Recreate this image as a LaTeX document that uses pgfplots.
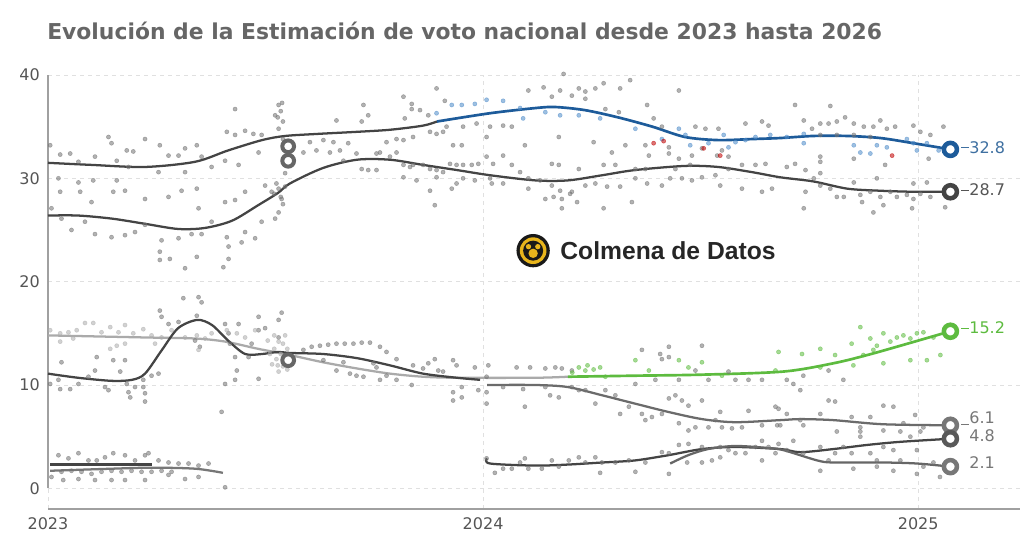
\documentclass[border=0pt]{standalone}
\usepackage{pgfplots}
\pgfplotsset{compat=1.18}
\usepackage{fontspec}
\setmainfont{DejaVu Sans}
\newfontfamily\logofont{Liberation Sans}
\definecolor{ppblue}{HTML}{1D5B9A}
\definecolor{ppbluept}{HTML}{4F8CC9}
\definecolor{voxgreen}{HTML}{5DBB3F}
\definecolor{dkgray}{HTML}{444444}
\definecolor{mdgray}{HTML}{777777}
\definecolor{ltgray}{HTML}{AAAAAA}
\definecolor{txtgray}{HTML}{555555}
\definecolor{titlegray}{HTML}{666666}
\definecolor{axgray}{HTML}{A0A0A0}
\definecolor{logoyellow}{HTML}{E8B51C}
\pgfplotsset{
  dots/.style={only marks, mark=*, mark size=1.55pt, color=#1, mark options={draw=none, fill=#1}, opacity=0.55},
  endmark/.style={only marks, mark=*, mark size=4.9pt, mark options={fill=white, draw=#1, line width=3.4pt}},
}
\begin{document}
\begin{tikzpicture}
\begin{axis}[
  scale only axis,
  width=729pt, height=325.5pt,
  xmin=2023, xmax=2025.234,
  ymin=-2, ymax=40,
  clip=false,
  axis x line*=bottom, axis y line*=left,
  axis line style={draw=none},
  tick style={draw=none},
  xtick={2023,2024,2025}, xticklabels={2023,2024,2025},
  ytick={0,10,20,30,40}, yticklabels={0,10,20,30,40},
  ticklabel style={font=\fontsize{12}{14}\selectfont, text=txtgray, inner sep=0pt},
  xticklabel style={anchor=north, yshift=-6pt},
  yticklabel style={anchor=east, xshift=-6pt},
  grid=major,
  major grid style={dash pattern=on 3pt off 3pt, black!12, line width=0.6pt},
  /pgf/number format/assume math mode=true,
]
% axis lines
\draw[axgray, line width=0.9pt] (rel axis cs:0,0) -- (rel axis cs:1,0);
\draw[axgray, line width=0.9pt] (axis cs:2023,0) -- (axis cs:2023,40);

% ---------- scatter: gray ----------
\addplot[dots=black!55] coordinates {
(2023.005,33.2)(2023.028,32.3)(2023.051,32.4)(2023.070,31.6)(2023.108,32.1)(2023.139,34.0)(2023.146,33.4)(2023.158,31.7)(2023.181,32.7)(2023.196,32.6)(2023.223,33.8)(2023.257,33.2)(2023.277,32.2)(2023.300,32.2)(2023.315,32.9)(2023.342,33.2)(2023.353,32.1)(2023.376,31.1)(2023.411,34.5)(2023.430,34.2)(2023.453,34.6)(2023.472,34.3)(2023.491,34.2)(2023.430,36.7)(2023.522,36.1)(2023.530,37.1)(2023.024,30.0)(2023.070,29.6)(2023.104,29.8)(2023.158,29.8)(2023.185,31.1)(2023.254,30.6)(2023.315,30.6)(2023.407,31.7)(2023.438,31.3)(2023.484,32.5)
(2023.028,28.7)(2023.074,28.7)(2023.100,27.7)(2023.150,28.7)(2023.177,28.8)(2023.223,28.0)(2023.277,28.2)(2023.307,28.8)(2023.342,29.0)(2023.346,27.1)(2023.407,27.7)(2023.430,27.9)(2023.453,28.7)(2023.499,29.3)(2023.514,28.7)(2023.008,27.1)(2023.031,26.1)(2023.054,25.0)(2023.085,25.8)(2023.108,24.6)(2023.146,24.3)(2023.177,24.5)(2023.200,24.8)(2023.223,25.5)(2023.261,24.0)(2023.300,24.2)(2023.330,24.6)(2023.353,24.6)(2023.376,25.8)(2023.411,24.3)(2023.415,23.4)(2023.445,23.8)(2023.453,24.8)(2023.476,24.2)(2023.491,25.8)(2023.522,26.1)(2023.257,22.9)(2023.257,22.1)(2023.280,22.2)(2023.315,21.3)(2023.342,22.4)(2023.403,21.4)(2023.415,22.2)(2023.530,26.7)(2023.537,28.0)
(2023.530,29.0)(2023.535,28.2)(2023.540,27.5)(2023.525,29.5)(2023.540,35.5)(2023.535,36.5)(2023.530,34.8)(2023.540,33.8)(2023.545,30.5)(2023.520,28.5)(2023.545,29.2)(2023.528,35.9)(2023.538,37.3)
(2023.663,35.6)(2023.721,35.5)(2023.725,37.1)(2023.736,36.1)(2023.817,37.9)(2023.820,35.8)(2023.836,37.2)(2023.836,36.7)(2023.855,36.6)(2023.874,36.1)(2023.893,38.7)(2023.912,37.5)(2024.104,38.5)(2023.916,35.0)(2023.954,35.0)(2023.985,35.3)(2024.016,35.0)(2024.046,35.1)(2024.066,35.0)(2024.008,34.0)(2023.602,33.5)(2023.633,33.7)(2023.656,33.5)(2023.690,33.4)(2023.587,32.5)(2023.617,32.7)(2023.648,32.5)(2023.671,32.7)(2023.709,32.4)(2023.755,32.4)(2023.778,33.5)(2023.801,33.8)(2023.817,33.7)(2023.839,34.0)(2023.878,34.5)(2023.893,34.3)(2023.908,34.5)
(2023.679,31.7)(2023.721,30.9)(2023.736,30.8)(2023.755,30.8)(2023.763,32.5)(2023.786,32.1)(2023.801,32.5)(2023.817,31.3)(2023.832,31.1)(2023.839,31.3)(2023.862,31.3)(2023.878,30.9)(2023.893,30.8)(2023.908,30.6)(2023.924,31.4)(2023.939,31.3)(2023.954,31.3)(2023.974,31.3)(2023.989,31.4)(2024.008,32.1)(2024.023,31.4)(2024.046,32.2)(2024.066,31.3)(2024.085,30.6)(2024.104,30.0)(2023.931,33.2)(2023.951,33.2)(2024.096,33.2)(2023.817,30.1)(2023.847,29.8)(2023.878,28.8)(2023.893,30.1)(2023.928,29.0)(2023.939,29.5)(2023.954,30.0)(2023.981,29.8)(2024.016,30.0)(2024.020,29.5)(2024.046,29.5)(2024.104,29.0)(2023.889,27.4)
(2024.139,38.8)(2024.177,38.5)(2024.185,40.1)(2024.220,38.7)(2024.235,38.4)(2024.258,38.7)(2024.277,39.2)(2024.315,38.7)(2024.338,39.5)(2024.450,38.5)(2024.158,37.9)(2024.204,38.0)(2024.235,37.7)(2024.281,36.7)(2024.312,36.4)(2024.377,37.1)(2024.392,35.8)(2024.411,35.0)(2024.488,35.0)(2024.511,34.8)(2024.541,34.8)(2024.603,35.3)(2024.641,35.5)(2024.656,35.1)(2024.174,34.0)(2024.254,33.5)(2024.327,33.2)(2024.373,33.2)(2024.427,33.0)(2024.549,32.7)(2024.381,32.2)(2024.427,32.4)(2024.450,31.9)(2024.480,32.2)(2024.503,32.9)(2024.538,32.2)(2024.564,32.1)(2024.296,32.5)
(2024.158,31.4)(2024.174,31.3)(2024.220,30.9)(2024.277,31.3)(2024.304,31.3)(2024.350,30.9)(2024.373,30.9)(2024.442,30.9)(2024.476,31.3)(2024.503,30.1)(2024.534,30.3)(2024.564,30.9)(2024.595,31.3)(2024.626,31.3)(2024.649,31.4)(2024.131,29.8)(2024.158,29.3)(2024.177,28.8)(2024.204,28.7)(2024.235,29.3)(2024.258,29.5)(2024.285,29.2)(2024.315,29.2)(2024.350,30.0)(2024.377,29.5)(2024.411,29.3)(2024.430,30.0)(2024.457,30.0)(2024.480,29.8)(2024.545,29.3)(2024.595,29.0)(2024.641,28.7)(2024.664,29.0)(2024.143,28.0)(2024.162,28.2)(2024.181,28.0)(2024.200,28.5)(2024.216,27.7)(2024.181,27.1)(2024.277,27.1)(2024.342,27.7)
(2024.717,37.1)(2024.798,37.0)(2024.832,35.9)(2024.775,35.3)(2024.794,35.3)(2024.813,35.5)(2024.852,35.3)(2024.875,35.0)(2024.897,35.0)(2024.913,35.6)(2024.928,34.8)(2024.947,35.0)(2024.989,35.1)(2025.005,34.5)(2025.058,35.0)(2024.737,35.6)(2024.756,34.8)(2024.775,34.2)(2024.813,34.2)(2024.852,34.2)(2024.890,34.0)(2025.028,34.2)(2024.775,32.1)(2024.775,31.6)(2024.852,31.9)(2024.924,31.3)(2025.024,31.9)
(2024.698,31.1)(2024.717,31.4)(2024.741,30.8)(2024.760,30.0)(2024.775,29.3)(2024.798,29.0)(2024.813,28.2)(2024.829,28.2)(2024.852,29.6)(2024.867,28.4)(2024.890,28.7)(2024.913,28.2)(2024.936,28.7)(2024.951,28.2)(2024.974,28.4)(2024.989,28.0)(2025.005,28.5)(2025.020,29.6)(2025.028,28.2)(2024.741,28.7)(2024.775,30.5)(2024.871,27.7)(2024.897,26.7)(2024.920,27.4)(2024.986,27.1)(2025.062,27.2)(2024.737,27.1)(2024.905,30.0)(2024.989,29.5)
(2023.338,14.3)(2023.349,13.7)
(2023.005,10.1)(2023.024,10.5)(2023.031,12.2)(2023.028,9.6)(2023.051,9.6)(2023.070,10.1)(2023.093,10.8)(2023.108,11.4)(2023.112,12.7)(2023.131,9.8)(2023.139,9.5)(2023.150,12.4)(2023.166,11.3)(2023.177,12.4)(2023.181,10.1)(2023.185,9.3)(2023.189,8.8)(2023.200,9.8)(2023.219,10.5)(2023.223,9.2)(2023.223,8.4)(2023.219,9.8)(2023.238,10.9)(2023.254,11.1)(2023.257,17.2)(2023.261,16.6)(2023.277,15.9)(2023.300,16.1)(2023.311,18.4)(2023.342,16.7)(2023.346,18.5)(2023.353,18.0)(2023.407,15.9)(2023.415,15.0)(2023.418,14.0)(2023.430,12.7)(2023.434,11.4)(2023.430,10.5)(2023.407,10.1)(2023.399,7.4)(2023.484,16.6)(2023.484,15.3)(2023.499,15.5)(2023.468,14.0)(2023.461,12.7)(2023.484,10.6)(2023.530,16.3)(2023.530,14.6)(2023.537,17.0)(2023.438,15.9)
(2023.024,3.2)(2023.047,2.9)(2023.070,3.4)(2023.093,2.7)(2023.112,2.7)(2023.131,3.0)(2023.150,3.4)(2023.177,3.2)(2023.200,2.7)(2023.223,3.2)(2023.231,3.4)(2023.254,2.7)(2023.277,2.5)(2023.300,2.4)(2023.323,2.4)(2023.346,2.2)(2023.369,2.4)(2023.031,1.6)(2023.054,1.7)(2023.077,1.6)(2023.100,1.4)(2023.123,1.6)(2023.146,1.7)(2023.169,1.6)(2023.192,1.7)(2023.215,1.6)(2023.238,1.6)(2023.261,1.7)(2023.284,1.6)(2023.008,1.1)(2023.035,0.8)(2023.070,0.9)(2023.108,0.8)(2023.146,0.8)(2023.177,0.8)(2023.223,0.8)(2023.277,1.3)(2023.315,0.9)(2023.346,1.1)(2023.407,0.1)
(2023.587,13.4)(2023.606,13.7)(2023.625,13.8)(2023.644,13.9)(2023.663,14.0)(2023.682,14.0)(2023.702,14.0)(2023.721,14.1)(2023.740,14.1)(2023.763,13.7)(2023.778,13.2)(2023.801,12.5)(2023.633,12.4)(2023.663,11.4)(2023.679,12.2)(2023.694,11.1)(2023.709,10.9)(2023.725,10.8)(2023.748,12.1)(2023.755,11.7)(2023.763,10.5)(2023.778,10.9)(2023.801,10.5)(2023.836,10.0)(2023.839,11.9)(2023.862,11.6)(2023.874,12.1)(2023.889,12.5)(2023.897,11.4)(2023.908,11.3)(2023.931,12.4)(2023.939,11.9)(2023.931,9.3)(2023.951,9.8)(2023.951,8.8)(2023.931,8.5)(2023.981,11.7)(2023.989,9.5)(2024.008,10.8)(2024.012,11.9)(2024.008,9.3)(2024.008,8.2)(2024.046,9.8)(2024.077,11.7)(2024.092,9.6)(2024.096,7.9)(2024.108,11.7)
(2024.008,2.9)(2024.027,1.5)(2024.046,1.9)(2024.066,1.9)(2024.085,2.5)(2024.096,2.9)(2024.104,1.9)
(2024.143,11.6)(2024.166,11.7)(2024.181,11.6)(2024.204,11.4)(2024.365,13.4)(2024.407,13.0)(2024.411,12.5)(2024.427,12.7)(2024.427,13.7)(2024.488,11.4)(2024.503,13.8)(2024.564,11.3)(2024.396,10.5)(2024.450,10.5)(2024.518,10.5)(2024.580,10.5)(2024.610,10.5)(2024.641,10.5)
(2024.698,10.5)(2024.713,10.1)(2024.736,10.9)(2024.794,11.4)(2024.828,10.5)(2024.729,9.5)
(2024.143,9.8)(2024.154,9.0)(2024.174,8.8)(2024.204,9.8)(2024.220,9.5)(2024.235,9.5)(2024.258,8.2)(2024.281,9.5)(2024.304,9.0)(2024.335,7.9)(2024.350,10.1)(2024.373,6.6)(2024.388,6.9)(2024.411,7.2)(2024.427,8.7)(2024.442,9.0)(2024.457,8.5)(2024.472,8.0)(2024.315,7.2)(2024.365,7.2)(2024.450,6.3)(2024.472,5.6)(2024.488,5.9)(2024.518,5.9)(2024.534,6.6)(2024.545,7.4)(2024.549,5.9)(2024.572,5.8)(2024.595,5.9)(2024.610,7.5)(2024.641,6.1)(2024.672,7.9)(2024.676,6.1)(2024.503,8.5)
(2024.679,7.7)(2024.698,7.2)(2024.729,6.6)(2024.775,7.2)(2024.794,8.5)(2024.809,8.4)(2024.847,6.9)(2024.867,5.9)(2024.890,6.9)(2024.920,8.0)(2024.943,7.9)(2024.966,6.3)(2024.993,7.1)(2025.012,5.9)(2024.683,6.1)(2024.736,6.1)(2024.813,5.5)(2024.867,5.5)(2024.920,5.6)(2024.959,5.5)(2025.005,5.5)
(2024.135,1.9)(2024.158,2.7)(2024.174,2.1)(2024.197,2.7)(2024.220,3.0)(2024.235,2.5)(2024.258,3.0)(2024.273,2.5)(2024.304,2.5)(2024.335,2.7)(2024.350,1.6)(2024.373,2.5)(2024.411,3.5)(2024.427,3.4)(2024.450,4.2)(2024.472,4.3)(2024.503,4.0)(2024.526,2.7)(2024.545,4.0)(2024.564,3.7)(2024.603,3.4)(2024.626,4.0)(2024.641,4.6)(2024.656,4.0)(2024.672,3.4)(2024.269,1.5)(2024.427,1.4)(2024.469,2.5)(2024.503,2.5)(2024.545,3.0)(2024.580,3.4)(2024.641,2.7)
(2024.679,4.3)(2024.698,3.7)(2024.713,4.6)(2024.736,3.4)(2024.775,4.0)(2024.794,2.7)(2024.809,3.4)(2024.828,4.0)(2024.847,3.4)(2024.867,5.0)(2024.890,3.4)(2024.905,2.7)(2024.920,4.0)(2024.943,3.7)(2024.959,2.7)(2024.982,5.0)(2024.997,3.7)(2025.012,2.1)(2025.035,2.5)(2024.851,1.9)(2024.905,2.1)(2024.943,1.7)(2024.997,1.4)(2024.775,1.7)(2025.050,1.1)
};
% light gray (Vox early) scatter
\addplot[dots=black!32] coordinates {
(2023.005,15.3)(2023.028,15.0)(2023.047,15.1)(2023.066,15.3)(2023.085,16.0)(2023.104,16.0)(2023.123,15.1)(2023.143,15.6)(2023.162,15.1)(2023.177,15.8)(2023.196,15.0)(2023.219,15.4)(2023.238,14.8)(2023.261,14.6)(2023.284,15.3)(2023.315,14.6)(2023.342,14.8)(2023.376,15.0)(2023.411,15.3)(2023.434,15.0)(2023.453,14.6)(2023.476,15.3)(2023.028,14.2)(2023.058,14.5)(2023.143,13.5)(2023.158,13.8)(2023.177,14.0)(2023.246,14.0)(2023.346,13.4)(2023.361,14.5)
(2023.520,13.5)(2023.530,14.2)(2023.525,12.5)(2023.535,13.0)(2023.540,11.8)(2023.530,11.3)(2023.545,12.2)(2023.520,14.8)(2023.515,12.0)(2023.540,14.0)(2023.550,13.5)(2023.550,11.5)(2023.510,13.0)(2023.545,14.8)(2023.528,11.9)(2023.505,14.3)
};
% blue scatter
\addplot[dots=ppbluept] coordinates {
(2023.893,36.3)(2023.928,37.1)(2023.951,37.1)(2023.981,37.2)(2024.008,37.6)(2024.046,37.5)(2024.085,36.8)(2024.092,35.8)
(2024.143,36.4)(2024.177,36.1)(2024.220,36.1)(2024.269,35.8)(2024.350,34.8)(2024.450,34.8)(2024.465,34.2)(2024.553,34.2)(2024.564,33.0)(2024.660,34.2)(2024.626,34.0)(2024.580,33.5)(2024.603,33.7)(2024.411,33.8)(2024.476,33.2)(2024.518,33.4)
(2024.737,34.3)(2024.698,34.0)(2024.737,33.4)(2024.852,33.2)(2024.867,32.5)(2024.890,32.4)(2024.905,33.2)(2024.928,33.0)(2024.974,33.8)(2024.989,33.4)(2024.997,32.7)(2025.020,33.4)(2025.047,32.7)
};
% red scatter
\addplot[dots=red!75!black] coordinates {
(2024.392,33.4)(2024.415,33.6)(2024.507,32.9)(2024.545,32.2)(2024.940,32.2)
};
% green scatter
\addplot[dots=voxgreen] coordinates {
(2024.205,11.2)(2024.220,11.7)(2024.235,11.4)(2024.240,11.9)(2024.254,11.5)(2024.269,11.7)(2024.281,10.8)(2024.350,12.4)(2024.450,12.4)(2024.472,11.7)(2024.503,12.2)(2024.381,11.4)(2024.549,10.9)(2024.672,11.4)(2024.679,13.2)
(2024.733,13.0)(2024.775,13.5)(2024.809,12.9)(2024.847,14.0)(2024.867,15.6)(2024.890,14.5)(2024.897,13.4)(2024.905,13.8)(2024.920,15.0)(2024.936,14.2)(2024.951,14.6)(2024.966,14.8)(2024.982,14.5)(2024.997,15.0)(2025.012,15.1)(2025.035,14.6)(2024.920,12.1)(2024.982,12.4)(2025.020,12.4)(2025.051,12.9)(2024.851,11.9)(2024.874,12.9)(2024.775,11.7)
};

% ---------- trend lines ----------
% PP gray part
\addplot[dkgray, line width=1.7pt, smooth, tension=0.5] coordinates {
(2023.000,31.5)(2023.100,31.3)(2023.223,31.1)(2023.338,31.6)(2023.414,32.7)(2023.492,33.7)(2023.545,34.1)(2023.620,34.3)(2023.710,34.5)(2023.786,34.7)(2023.862,35.1)(2023.894,35.5)};
% PP blue part
\addplot[ppblue, line width=2pt, smooth, tension=0.5] coordinates {
(2023.894,35.5)(2024.016,36.3)(2024.120,36.8)(2024.166,36.9)(2024.234,36.6)(2024.310,35.9)(2024.389,35.0)(2024.464,34.0)(2024.540,33.7)(2024.618,33.8)(2024.683,33.9)(2024.759,34.1)(2024.837,34.1)(2024.913,33.9)(2024.989,33.4)(2025.074,32.8)};
% PSOE
\addplot[dkgray, line width=1.7pt, smooth, tension=0.5] coordinates {
(2023.000,26.4)(2023.069,26.4)(2023.147,26.1)(2023.223,25.6)(2023.299,25.1)(2023.361,25.2)(2023.423,25.9)(2023.483,27.4)(2023.529,28.6)(2023.556,29.5)(2023.632,31.0)(2023.710,31.8)(2023.786,31.8)(2023.862,31.3)(2023.940,30.8)(2024.016,30.3)(2024.120,29.8)(2024.195,29.8)(2024.274,30.3)(2024.349,30.8)(2024.464,31.2)(2024.540,31.1)(2024.618,30.6)(2024.683,30.1)(2024.759,29.7)(2024.837,29.0)(2024.913,28.8)(2024.989,28.7)(2025.074,28.7)};
% Vox gray part
\addplot[ltgray, line width=1.7pt, smooth, tension=0.5] coordinates {
(2023.000,14.8)(2023.223,14.6)(2023.338,14.5)(2023.407,14.2)(2023.483,13.5)(2023.556,12.9)(2023.632,12.2)(2023.710,11.6)(2023.786,11.1)(2023.862,10.8)(2023.940,10.7)(2024.120,10.7)(2024.195,10.8)};
% Vox green part
\addplot[voxgreen, line width=2pt, smooth, tension=0.5] coordinates {
(2024.195,10.8)(2024.349,10.9)(2024.503,11.0)(2024.690,11.3)(2024.805,12.1)(2024.883,12.9)(2024.959,13.8)(2025.074,15.2)};
% Sumar
\addplot[dkgray, line width=1.7pt, smooth, tension=0.5] coordinates {
(2023.000,11.1)(2023.069,10.7)(2023.147,10.4)(2023.193,10.5)(2023.223,11.1)(2023.262,13.4)(2023.299,15.5)(2023.343,16.3)(2023.377,15.8)(2023.414,14.3)(2023.453,13.0)(2023.492,13.0)(2023.529,13.2)(2023.556,13.1)(2023.632,13.0)(2023.710,12.6)(2023.786,11.9)(2023.862,11.1)(2023.940,10.7)(2023.993,10.5)};
% 6.1 line
\addplot[black!58, line width=1.7pt, smooth, tension=0.5] coordinates {
(2024.009,10.0)(2024.120,10.0)(2024.195,9.8)(2024.274,9.0)(2024.349,8.2)(2024.425,7.4)(2024.503,6.7)(2024.579,6.4)(2024.683,6.6)(2024.729,6.7)(2024.805,6.6)(2024.920,6.2)(2025.074,6.1)};
% 4.8 line
\addplot[dkgray, line width=1.7pt, smooth, tension=0.5] coordinates {
(2024.009,2.9)(2024.016,2.4)(2024.120,2.2)(2024.195,2.3)(2024.274,2.5)(2024.349,2.7)(2024.425,3.2)(2024.503,3.8)(2024.579,4.0)(2024.683,3.8)(2024.729,3.5)(2024.805,3.8)(2024.883,4.2)(2024.959,4.5)(2025.074,4.8)};
% 2.1 line
\addplot[black!60, line width=1.7pt, smooth, tension=0.5] coordinates {
(2024.430,2.4)(2024.471,3.2)(2024.517,3.8)(2024.579,4.1)(2024.655,3.9)(2024.690,3.7)(2024.768,2.7)(2024.805,2.5)(2024.920,2.5)(2024.998,2.4)(2025.074,2.1)};
% early short lines
\addplot[dkgray, line width=2.2pt] coordinates {(2023.005,2.3)(2023.239,2.3)};
\addplot[mdgray, line width=1.7pt, smooth, tension=0.5] coordinates {
(2023.005,1.7)(2023.147,1.9)(2023.239,2.0)(2023.338,1.9)(2023.402,1.5)};

% ---------- election markers (July 2023) ----------
\addplot[only marks, mark=*, mark size=4.4pt, mark options={fill=white, draw=black!60, line width=3pt}] coordinates {
(2023.552,33.1)(2023.552,31.7)(2023.552,12.4)};

% ---------- end markers with labels ----------
\addplot[endmark=ppblue,
  nodes near coords={\rule[0.3em]{6pt}{0.8pt}32.8},
  every node near coord/.style={anchor=west, xshift=6.5pt, yshift=1.5pt, inner sep=0pt, text=ppbluept!80!black, font=\fontsize{12}{14}\selectfont}]
  coordinates {(2025.074,32.8)};
\addplot[endmark=dkgray,
  nodes near coords={\rule[0.3em]{6pt}{0.8pt}28.7},
  every node near coord/.style={anchor=west, xshift=6.5pt, yshift=1.5pt, inner sep=0pt, text=txtgray, font=\fontsize{12}{14}\selectfont}]
  coordinates {(2025.074,28.7)};
\addplot[endmark=voxgreen,
  nodes near coords={\rule[0.3em]{6pt}{0.8pt}15.2},
  every node near coord/.style={anchor=west, xshift=6.5pt, yshift=2.5pt, inner sep=0pt, text=voxgreen, font=\fontsize{12}{14}\selectfont}]
  coordinates {(2025.074,15.2)};
\addplot[endmark=mdgray,
  nodes near coords={\rule[-0.1em]{6pt}{0.8pt}6.1},
  every node near coord/.style={anchor=west, xshift=6.5pt, yshift=5pt, inner sep=0pt, text=mdgray, font=\fontsize{12}{14}\selectfont}]
  coordinates {(2025.074,6.1)};
\addplot[endmark=black!65,
  nodes near coords={\hspace{6pt}4.8},
  every node near coord/.style={anchor=west, xshift=6.5pt, yshift=2pt, inner sep=0pt, text=mdgray, font=\fontsize{12}{14}\selectfont}]
  coordinates {(2025.074,4.8)};
\addplot[endmark=mdgray,
  nodes near coords={\hspace{6pt}2.1},
  every node near coord/.style={anchor=west, xshift=6.5pt, yshift=3pt, inner sep=0pt, text=mdgray, font=\fontsize{12}{14}\selectfont}]
  coordinates {(2025.074,2.1)};

% ---------- logo ----------
\fill[black!90] (axis cs:2024.115,23.0) circle (12.5pt);
\fill[logoyellow] (axis cs:2024.115,23.0) circle (10pt);
\fill[black!90] (axis cs:2024.115,23.0) circle (7.5pt);
\fill[logoyellow] ([yshift=-2pt]axis cs:2024.115,23.0) circle (3.5pt);
\fill[logoyellow] ([xshift=-3.5pt,yshift=3pt]axis cs:2024.115,23.0) circle (2pt);
\fill[logoyellow] ([xshift=3.5pt,yshift=3pt]axis cs:2024.115,23.0) circle (2pt);
\node[anchor=west, inner sep=0pt, text=black!85, font=\logofont\bfseries\fontsize{18.5}{20}\selectfont] at (axis cs:2024.177,23.0) {Colmena de Datos};
\end{axis}
\node[anchor=base west, inner sep=0pt, text=titlegray, font=\bfseries\fontsize{16.4}{19}\selectfont] at ([xshift=-0.75pt,yshift=26.25pt]current axis.north west) {Evolución de la Estimación de voto nacional desde 2023 hasta 2026};
\pgfresetboundingbox
\useasboundingbox ([xshift=-36pt,yshift=-24.75pt]current axis.south west) rectangle ([xshift=3pt,yshift=56.25pt]current axis.north east);
\end{tikzpicture}
\end{document}
